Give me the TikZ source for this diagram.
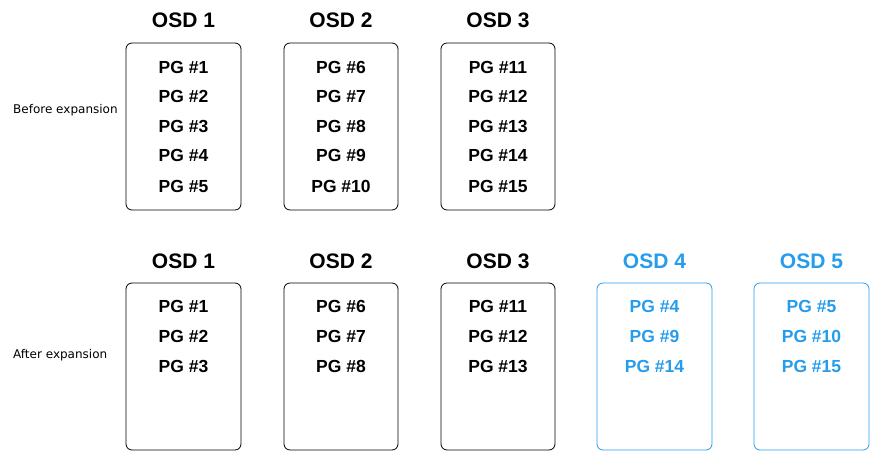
\documentclass[tikz,border=0pt]{standalone}
\usepackage{fontspec}
\setmainfont{Liberation Sans}
\newfontfamily\dejavu{DejaVu Sans}
\definecolor{osdblue}{RGB}{38,156,236}
\begin{document}
\begin{tikzpicture}[x=1pt,y=-1pt,
  osdbox/.style={draw=black,line width=0.8pt,rounded corners=6pt},
  bluebox/.style={osdbox,draw=osdblue},
  osdtitle/.style={font=\fontsize{21}{24}\selectfont\bfseries},
  pglabel/.style={font=\fontsize{17.5}{20}\selectfont\bfseries},
  sidelabel/.style={font=\dejavu\fontsize{12}{14}\selectfont,anchor=west,inner sep=0pt}]
\useasboundingbox (0,0) rectangle (884,464);
% top row
\foreach \xl/\xr in {126/241,284/398,441/555}{
  \draw[osdbox] (\xl,43) rectangle (\xr,210);
}
\node[osdtitle] (t1) at (183.5,20) {OSD 1};
\node[osdtitle] (t2) at (341,20) {OSD 2};
\node[osdtitle] (t3) at (498,20) {OSD 3};
\foreach \n [count=\k] in {1,2,3,4,5}{
  \pgfmathsetmacro\yy{{67,96,126,155,186}[\k-1]}
  \node[pglabel] (a\k) at (183.5,\yy) {PG \#\n};
}
\foreach \n [count=\k] in {6,7,8,9,10}{
  \pgfmathsetmacro\yy{{67,96,126,155,186}[\k-1]}
  \node[pglabel] (b\k) at (341,\yy) {PG \#\n};
}
\foreach \n [count=\k] in {11,12,13,14,15}{
  \pgfmathsetmacro\yy{{67,96,126,155,186}[\k-1]}
  \node[pglabel] (c\k) at (498,\yy) {PG \#\n};
}
\node[sidelabel] (before) at (13,110) {Before expansion};
% bottom row
\foreach \xl/\xr in {126/241,284/398,441/555}{
  \draw[osdbox] (\xl,283) rectangle (\xr,450);
}
\foreach \xl/\xr in {597/712,754/869}{
  \draw[bluebox] (\xl,283) rectangle (\xr,450);
}
\node[osdtitle] (u1) at (183.5,261) {OSD 1};
\node[osdtitle] (u2) at (341,261) {OSD 2};
\node[osdtitle] (u3) at (498,261) {OSD 3};
\node[osdtitle,text=osdblue] (u4) at (654.5,261) {OSD 4};
\node[osdtitle,text=osdblue] (u5) at (811.5,261) {OSD 5};
\foreach \x/\na/\nb/\nc/\nm/\col in {183.5/1/2/3/d/black,341/6/7/8/e/black,498/11/12/13/f/black,654.5/4/9/14/g/osdblue,811.5/5/10/15/h/osdblue}{
  \node[pglabel,text=\col] (\nm1) at (\x,306) {PG \#\na};
  \node[pglabel,text=\col] (\nm2) at (\x,336) {PG \#\nb};
  \node[pglabel,text=\col] (\nm3) at (\x,366) {PG \#\nc};
}
\node[sidelabel] (after) at (13,355) {After expansion};
\end{tikzpicture}
\end{document}
